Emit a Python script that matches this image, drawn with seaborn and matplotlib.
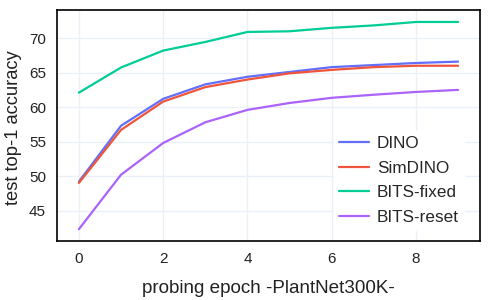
import matplotlib
matplotlib.use("Agg")
import matplotlib.pyplot as plt
import seaborn as sns
import pandas as pd

epochs = list(range(10))
dino = [49.2, 57.3, 61.2, 63.3, 64.4, 65.1, 65.8, 66.1, 66.4, 66.6]
simdino = [49.0, 56.7, 60.8, 62.9, 64.0, 64.9, 65.4, 65.8, 66.0, 66.0]
bits_fixed = [62.1, 65.75, 68.2, 69.45, 70.9, 71.0, 71.5, 71.85, 72.35, 72.35]
bits_reset = [42.3, 50.2, 54.8, 57.8, 59.6, 60.6, 61.35, 61.8, 62.2, 62.5]
series_names = ["DINO", "SimDINO", "BITS-fixed", "BITS-reset"]
colors = ["#636efa", "#EF553B", "#00cc96", "#ab63fa"]

rows = []
for name, vals in zip(series_names, [dino, simdino, bits_fixed, bits_reset]):
    for e, v in zip(epochs, vals):
        rows.append({"epoch": e, "acc": v, "method": name})
df = pd.DataFrame(rows)

sns.set_theme(style="white")
plt.rcParams['font.family'] = ['Liberation Sans', 'DejaVu Sans']

fig = plt.figure(figsize=(5, 3), dpi=100)
ax = fig.add_axes([0.114, 0.197, 0.846, 0.770])
sns.lineplot(data=df, x="epoch", y="acc", hue="method", hue_order=series_names,
             palette=colors, linewidth=1.6, ax=ax)

ax.set_xlim(-0.52, 9.52)
ax.set_ylim(40.6, 74.1)
ax.set_xticks([0, 2, 4, 6, 8])
ax.set_yticks([45, 50, 55, 60, 65, 70])
ax.grid(True, color="#EBF0F8", linewidth=1)
ax.set_axisbelow(True)
for s in ax.spines.values():
    s.set_color("black")
    s.set_linewidth(1.2)
ax.tick_params(axis="both", labelsize=11, length=0, colors="#222222", pad=8)
ax.set_xlabel("probing epoch -PlantNet300K-", fontsize=13.6, color="#222222", labelpad=10)
ax.set_ylabel("test top-1 accuracy", fontsize=13.2, color="#222222")
ax.yaxis.set_label_coords(-0.082, 0.49)

leg = ax.legend(loc="upper left", bbox_to_anchor=(0.655, 0.475), fontsize=12.3,
                frameon=True, framealpha=1, edgecolor="white", fancybox=False,
                handlelength=1.75, handletextpad=0.45, borderpad=0.3,
                borderaxespad=0, labelspacing=0.56)
for line in leg.get_lines():
    line.set_linewidth(1.6)

fig.savefig("out.png", dpi=100)
